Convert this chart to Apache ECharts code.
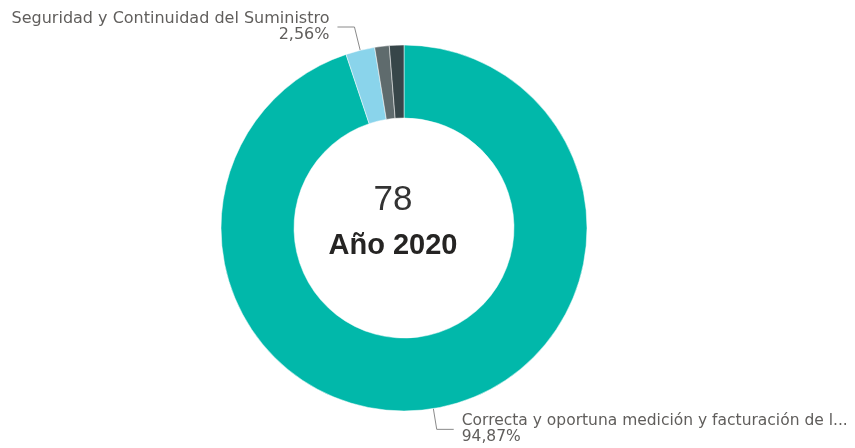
<!DOCTYPE html>
<html>
<head>
<meta charset="utf-8">
<script src="https://cdn.jsdelivr.net/npm/echarts@6/dist/echarts.min.js"></script>
<style>
  html, body { margin: 0; padding: 0; background: #fff; }
  #chart { width: 855px; height: 448px; }
</style>
</head>
<body>
<div id="chart"></div>
<script>
// categories & values (clockwise from 12 o'clock)
const categories = [
  'Correcta y oportuna medición y facturación de l...',
  'Seguridad y Continuidad del Suministro',
  'Atención al Cliente',
  'Otros'
]
const values = [74, 2, 1, 1]
const colors = ['#01B8AA', '#8AD4EB', '#5F6B6D', '#374649']
const showLabel = [true, true, false, false]
const lineLength = [21, 24, 0, 0]
const total = values.reduce((a, b) => a + b, 0)
const yearLabel = 'Año 2020'

const myChart = echarts.init(document.getElementById('chart'))

const pct = v => (v / total * 100).toFixed(2).replace('.', ',') + '%'

const option = {
  backgroundColor: '#fff',
  animation: false,
  graphic: [
    {
      type: 'text',
      style: {
        x: 393, y: 200,
        text: String(total),
        font: '35px "Liberation Sans", Arial, sans-serif',
        fill: '#333333',
        textAlign: 'center',
        textVerticalAlign: 'middle'
      }
    },
    {
      type: 'text',
      style: {
        x: 393, y: 246,
        text: yearLabel,
        font: 'bold 29px "Liberation Sans", Arial, sans-serif',
        fill: '#252423',
        textAlign: 'center',
        textVerticalAlign: 'middle'
      }
    }
  ],
  series: [
    {
      type: 'pie',
      center: [404, 228],
      radius: [110, 183],
      startAngle: 90,
      clockwise: true,
      avoidLabelOverlap: false,
      itemStyle: { borderColor: '#ffffff', borderWidth: 0.5 },
      label: {
        show: true,
        position: 'outside',
        color: '#605E5C',
        fontFamily: 'DejaVu Sans',
        fontSize: 16,
        lineHeight: 16,
        distanceToLabelLine: 8,
        formatter: p => p.name + '\n' + pct(p.value)
      },
      labelLine: {
        show: true,
        length2: 17,
        lineStyle: { color: '#8a8a8a', width: 1 }
      },
      emphasis: { disabled: true },
      data: categories.map((name, i) => ({
        name,
        value: values[i],
        itemStyle: { color: colors[i] },
        label: {
          show: showLabel[i],
          fontSize: i === 0 ? 15.5 : 16,
          padding: i === 1 ? [0, 0, 8, 0] : 0
        },
        labelLine: { show: showLabel[i], length: lineLength[i] }
      }))
    }
  ]
}
myChart.setOption(option)
window.addEventListener('resize', () => myChart.resize())
</script>
</body>
</html>
